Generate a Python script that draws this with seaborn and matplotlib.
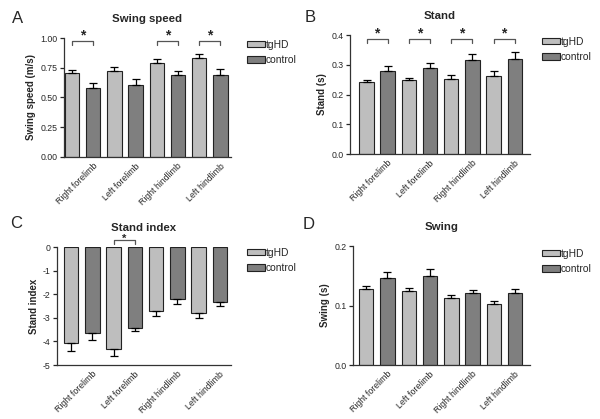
import pandas as pd
import seaborn as sns
import matplotlib.pyplot as plt
from matplotlib.transforms import ScaledTranslation

limbs = ['Right forelimb', 'Left forelimb', 'Right hindlimb', 'Left hindlimb']
groups = ['tgHD', 'control']

speed_tg = [0.705, 0.72, 0.79, 0.83]
speed_tg_err = [0.03, 0.035, 0.03, 0.035]
speed_ctrl = [0.578, 0.602, 0.685, 0.69]
speed_ctrl_err = [0.042, 0.05, 0.037, 0.05]

stand_tg = [0.241, 0.249, 0.253, 0.261]
stand_tg_err = [0.008, 0.008, 0.013, 0.017]
stand_ctrl = [0.279, 0.289, 0.315, 0.318]
stand_ctrl_err = [0.016, 0.016, 0.02, 0.024]

index_tg = [-4.08, -4.33, -2.73, -2.80]
index_tg_err = [0.32, 0.27, 0.2, 0.19]
index_ctrl = [-3.64, -3.43, -2.21, -2.35]
index_ctrl_err = [0.30, 0.15, 0.21, 0.13]

swing_tg = [0.128, 0.125, 0.112, 0.102]
swing_tg_err = [0.005, 0.005, 0.006, 0.005]
swing_ctrl = [0.147, 0.150, 0.121, 0.121]
swing_ctrl_err = [0.009, 0.011, 0.005, 0.007]

sns.set_style('ticks')
plt.rcParams['font.family'] = ['Liberation Sans', 'DejaVu Sans']
plt.rcParams['axes.unicode_minus'] = False

colors = ['#bebebe', '#7f7f7f']
W, H = 600, 419


def px_axes(fig, left, top, right, bottom):
    return fig.add_axes([left / W, 1 - bottom / H, (right - left) / W, (bottom - top) / H])


def panel(ax, tg, ctrl, tg_err, ctrl_err, title, ylabel, ylim, yticks, fmt,
          xlim, sig, br_y, br_tick, star_y, leg_xy, star_size=10):
    df = pd.DataFrame({
        'limb': limbs * 2,
        'group': [groups[0]] * 4 + [groups[1]] * 4,
        'value': tg + ctrl,
    })
    sns.barplot(data=df, x='limb', y='value', hue='group', order=limbs,
                hue_order=groups, palette=colors, width=1.0, gap=0.32,
                errorbar=None, edgecolor='#222222', linewidth=0.8,
                saturation=1, ax=ax)

    # one-sided SEM bars, taken from the drawn bar positions
    for cont, errs in zip(ax.containers, [tg_err, ctrl_err]):
        for p, e in zip(cont.patches, errs):
            xc = p.get_x() + p.get_width() / 2
            h = p.get_height()
            yerr = [[0], [e]] if h >= 0 else [[e], [0]]
            ax.errorbar(xc, h, yerr=yerr, color='black', lw=0.9,
                        capsize=3.2, capthick=0.9, zorder=1)

    # significance brackets
    shift = 0.57 * star_size / 72
    star_off = ScaledTranslation(0, -shift, ax.figure.dpi_scale_trans)
    for i in sig:
        p1 = ax.containers[0].patches[i]
        p2 = ax.containers[1].patches[i]
        x1 = p1.get_x() + p1.get_width() / 2
        x2 = p2.get_x() + p2.get_width() / 2
        ax.plot([x1, x1, x2, x2], [br_tick, br_y, br_y, br_tick],
                color='#555555', lw=0.9, clip_on=False)
        ax.text((x1 + x2) / 2, star_y, '*', ha='center', va='baseline',
                fontsize=star_size, fontweight='bold', clip_on=False,
                transform=ax.transData + star_off)

    ax.set_xlim(*xlim)
    ax.set_ylim(*ylim)
    ax.set_yticks(yticks)
    ax.set_yticklabels([fmt.format(v) for v in yticks])
    ax.set_xlabel('')
    ax.set_ylabel(ylabel, fontsize=7, fontweight='bold', labelpad=3)
    ax.set_title(title, fontsize=8.2, fontweight='bold', pad=11.5)
    ax.tick_params(axis='y', labelsize=6.3, length=3, width=0.9, pad=1.5)
    ax.tick_params(axis='x', length=0, labelsize=6.3, pad=1)
    offs = ScaledTranslation(10 / 100, -3 / 100, ax.figure.dpi_scale_trans)
    for lab in ax.get_xticklabels():
        lab.set_rotation(45)
        lab.set_ha('right')
        lab.set_va('top')
        lab.set_rotation_mode('anchor')
        lab.set_transform(lab.get_transform() + offs)
    sns.despine(ax=ax)
    for s in ['left', 'bottom']:
        ax.spines[s].set_linewidth(0.9)
        ax.spines[s].set_color('#333333')

    handles, labels = ax.get_legend_handles_labels()
    ax.legend(handles, labels, loc='upper left',
              bbox_to_anchor=(leg_xy[0] / W, 1 - leg_xy[1] / H),
              bbox_transform=ax.figure.transFigure, frameon=False,
              fontsize=7.4, handlelength=1.75, handleheight=0.55,
              handletextpad=0.05, labelspacing=0.5, borderpad=0,
              borderaxespad=0)


fig = plt.figure(figsize=(6, 4.19), dpi=100)

axA = px_axes(fig, 64, 38, 231, 157)
panel(axA, speed_tg, speed_ctrl, speed_tg_err, speed_ctrl_err,
      'Swing speed', 'Swing speed (m/s)', (0, 1.0),
      [0, 0.25, 0.5, 0.75, 1.0], '{:.2f}', (-0.44, 3.5),
      [0, 2, 3], 0.977, 0.94, 1.05, (247, 40))

axB = px_axes(fig, 350, 35, 530, 154)
panel(axB, stand_tg, stand_ctrl, stand_tg_err, stand_ctrl_err,
      'Stand', 'Stand (s)', (0, 0.4),
      [0, 0.1, 0.2, 0.3, 0.4], '{:.1f}', (-0.64, 3.61),
      [0, 1, 2, 3], 0.387, 0.372, 0.418, (542, 37))

axC = px_axes(fig, 57, 247, 231, 365)
panel(axC, index_tg, index_ctrl, index_tg_err, index_ctrl_err,
      'Stand index', 'Stand index', (-5, 0),
      [0, -1, -2, -3, -4, -5], '{:.0f}', (-0.58, 3.51),
      [1], 0.3, 0.13, 0.47, (247, 248), star_size=8)

axD = px_axes(fig, 353, 246, 530, 365)
panel(axD, swing_tg, swing_ctrl, swing_tg_err, swing_ctrl_err,
      'Swing', 'Swing (s)', (0, 0.2),
      [0, 0.1, 0.2], '{:.1f}', (-0.56, 3.6),
      [], 0, 0, 0, (542, 249))

for letter, x, y in [('A', 12, 23), ('B', 305, 22), ('C', 10, 228), ('D', 303, 229)]:
    fig.text(x / W, 1 - y / H, letter, fontsize=12, ha='left', va='baseline')

fig.savefig('out.png', dpi=100)
